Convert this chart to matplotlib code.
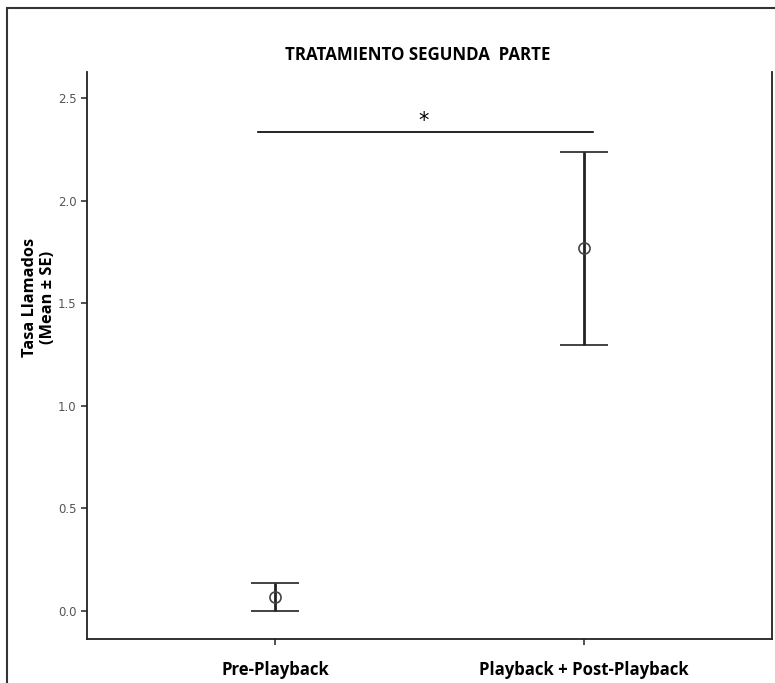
import matplotlib
matplotlib.use("Agg")
import matplotlib.pyplot as plt
from matplotlib.patches import Rectangle

# group means and standard errors
groups = ["Pre-Playback", "Playback + Post-Playback"]
means = [0.068, 1.768]
se = [0.068, 0.470]
yticks = [0.0, 0.5, 1.0, 1.5, 2.0, 2.5]
sig_y = 2.334

fig = plt.figure(figsize=(7.75, 6.83), dpi=100)
ax = fig.add_axes([87/775, 1-639/683, (772-87)/775, (639-72)/683])

x = list(range(len(groups)))
ax.errorbar(x, means, yerr=se, fmt="o", mfc="none", mec="#444444", ms=8, mew=1.2,
            ecolor="#222222", elinewidth=2, capsize=17, capthick=2.2, color="#222222")

# significance bar
ax.plot([-0.055, 1.03], [sig_y, sig_y], color="black", lw=1.2)
ax.text(0.48, sig_y + 0.005, "*", ha="center", va="bottom", fontsize=15)

ax.set_xlim(-0.608, 1.608)
ax.set_ylim(-0.136, 2.627)
ax.set_xticks(x)
ax.set_xticklabels(groups, fontfamily="Open Sans", fontweight="bold", fontsize=12.1)
ax.set_yticks(yticks)
ax.set_yticklabels([f"{v:.1f}" for v in yticks], fontsize=8.5, color="#555555")
ax.tick_params(axis="both", direction="out", length=4, width=1.2, color="#333333")
ax.tick_params(axis="x", pad=12)
ax.spines["top"].set_visible(False)
for s in ("left", "right", "bottom"):
    ax.spines[s].set_linewidth(1.3)
    ax.spines[s].set_color("#222222")

ax.set_ylabel("Tasa Llamados\n(Mean ± SE)", fontfamily="Open Sans", fontweight="bold",
              fontsize=11.8, linespacing=1.2, va="center")
ax.yaxis.set_label_coords(-0.07, 0.603)

fig.text(418/775, 1-55/683, "TRATAMIENTO SEGUNDA  PARTE", ha="center", va="center",
         fontfamily="Open Sans", fontweight="bold", fontsize=12.2)

# outer frame around the chart
fig.patches.append(Rectangle((7/775, -0.1), 1.2, 1-8/683+0.1, transform=fig.transFigure,
                             fill=False, ec="#333333", lw=1.5))

fig.savefig("out.png", dpi=100)
